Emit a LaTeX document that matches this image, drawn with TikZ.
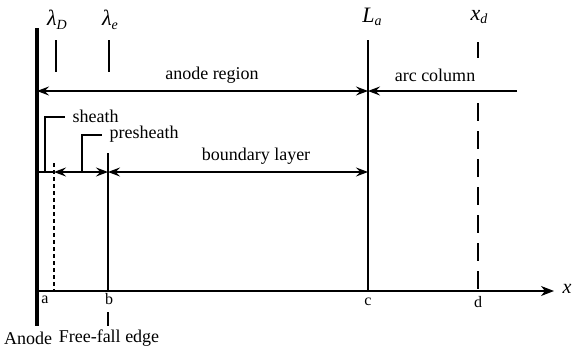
\documentclass[tikz,border=0pt]{standalone}
\usepackage{fontspec}
\setmainfont{Liberation Serif}
\usetikzlibrary{arrows.meta}
\begin{document}
\begin{tikzpicture}[x=1pt,y=-1pt,line width=1.1pt,
  tip/.tip={Stealth[length=12pt,width=9pt,inset=4.5pt]},
  dbl/.style={tip-tip},
  one/.style={-tip},
  lbl/.style={font=\rmfamily\fontsize{18}{20}\selectfont,inner sep=0pt},
  small/.style={font=\rmfamily\fontsize{16}{18}\selectfont,inner sep=0pt},
  sym/.style={font=\rmfamily\fontsize{22}{24}\selectfont\itshape,inner sep=0pt},
  anodeline/.style={line width=4.5pt},
  fine/.style={line width=1.3pt,dash pattern=on 4pt off 3pt},
  coarse/.style={line width=1.4pt,dash pattern=on 18pt off 10pt}]
\useasboundingbox (0,0) rectangle (573,348);
% anode
\coordinate (anT) at (37,28);
\coordinate (anB) at (37,326);
\draw[anodeline] (anT) -- (anB);
% axis
\coordinate (ax0) at (37,291);
\coordinate (ax1) at (554,291);
\draw[-{Stealth[length=13pt,width=10pt,inset=4pt]}] (ax0) -- (ax1);
\node[sym,font=\rmfamily\fontsize{20}{22}\selectfont\itshape] (xl) at (567,289) {x};
% symbols at top
\node[sym] (lD) at (57,20) {λ\raisebox{-0.35ex}{\fontsize{14}{14}\selectfont D}};
\node[sym] (le) at (110,20) {λ\raisebox{-0.35ex}{\fontsize{14}{14}\selectfont e}};
\node[sym] (La) at (372,17) {L\raisebox{-0.35ex}{\fontsize{14}{14}\selectfont a}};
\node[sym] (xd) at (479,17) {x\raisebox{-0.35ex}{\fontsize{14}{14}\selectfont d}};
% ticks
\coordinate (tD0) at (56,40); \coordinate (tD1) at (56,72);
\coordinate (te0) at (109,40); \coordinate (te1) at (109,72);
\draw (tD0) -- (tD1);
\draw (te0) -- (te1);
% L_a line
\coordinate (La0) at (368,40); \coordinate (La1) at (368,291);
\draw (La0) -- (La1);
% x_d tick and dashed line
\coordinate (xd0) at (478,42); \coordinate (xd1) at (478,58);
\coordinate (xd2) at (478,103); \coordinate (xd3) at (478,291);
\draw[line width=1.4pt] (xd0) -- (xd1);
\draw[coarse] (xd2) -- (xd3);
% anode region / arc column
\coordinate (ar0) at (37,91); \coordinate (ar1) at (368,91);
\coordinate (ac0) at (517,91);
\draw[dbl] (ar0) -- (ar1);
\draw[one] (ac0) -- (ar1);
\node[lbl] (anodeRegion) at (212,75) {anode region};
\node[lbl] (arcCol) at (435,75) {arc column};
% lambda_D dashed line and lambda_e line
\coordinate (dl0) at (54,163); \coordinate (dl1) at (54,291);
\draw[fine] (dl0) -- (dl1);
\coordinate (el0) at (108,153); \coordinate (el1) at (108,291);
\draw (el0) -- (el1);
% sheath row
\coordinate (s0) at (37,172); \coordinate (s1) at (54,172);
\coordinate (s2) at (108,172); \coordinate (s3) at (368,172);
\draw (s0) -- (s1);
\draw[dbl] (s1) -- (s2);
\draw[dbl] (s2) -- (s3);
\node[lbl] (boundary) at (256,156) {boundary layer};
% brackets
\node[lbl,anchor=west] (sheath) at (72,116) {sheath};
\node[lbl,anchor=west] (presheath) at (109,134) {presheath};
\coordinate (sb0) at (45,172); \coordinate (sb1) at (45,117); \coordinate (sb2) at (65,117);
\draw (sb0) -- (sb1) -- (sb2);
\coordinate (pb0) at (82,172); \coordinate (pb1) at (82,135); \coordinate (pb2) at (102,135);
\draw (pb0) -- (pb1) -- (pb2);
% bottom labels
\node[small] (la) at (45,300) {a};
\node[small] (lb) at (109,299) {b};
\node[small] (lc) at (368,302) {c};
\node[small] (ld) at (478,302) {d};
\coordinate (bt0) at (108,312); \coordinate (bt1) at (108,326);
\draw (bt0) -- (bt1);
\node[lbl] (anodeLbl) at (28,338) {Anode};
\node[lbl] (ffe) at (109,338) {Free-fall edge};
\end{tikzpicture}
\end{document}
